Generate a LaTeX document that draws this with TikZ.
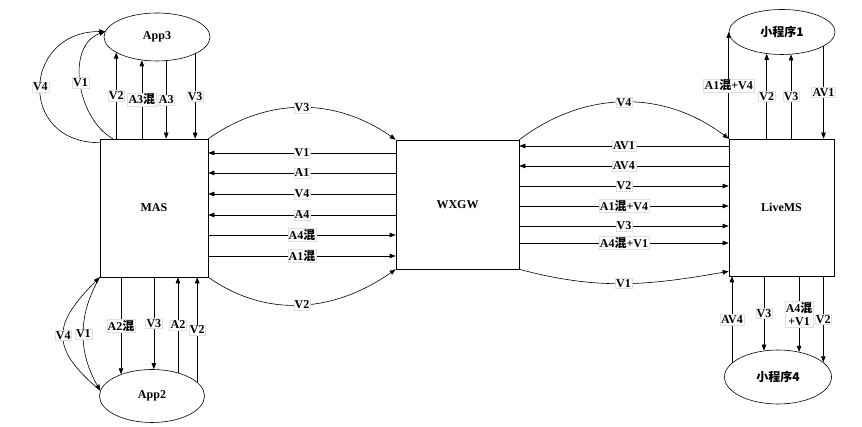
\documentclass[tikz,border=0pt]{standalone}
\usepackage{fontspec}
\setmainfont{Liberation Serif}
\newfontfamily\cjk{Noto Sans CJK SC}
\newcommand\hun{{\cjk 混}}
\usetikzlibrary{shapes.geometric,arrows.meta}

\begin{document}
\begin{tikzpicture}[x=1pt,y=1pt,->,>={Triangle[length=6pt,width=4.5pt]},line width=.6pt,
  font=\fontsize{12}{13}\selectfont\bfseries,
  server/.style={draw,rectangle,inner sep=0pt},
  app/.style={draw,ellipse,inner sep=0pt},
  lab/.style={fill=white,draw=black!12,line width=.3pt,inner sep=1pt,align=center}]
  \useasboundingbox (0,0) rectangle (862,427);

  % servers
  \node[server,minimum width=108pt,minimum height=138pt] (mas) at (154,219) {MAS};
  \node[server,minimum width=123pt,minimum height=129pt] (wxgw) at (457.5,222.5) {WXGW};
  \node[server,minimum width=105pt,minimum height=137pt] (livems) at (781.5,219.5) {LiveMS};

  % clients
  \node[app,minimum width=106pt,minimum height=48pt] (app3) at (157,390) {App3};
  \node[app,minimum width=105pt,minimum height=53pt] (app2) at (152,31) {App2};
  \node[app,minimum width=106pt,minimum height=45pt] (mini1) at (782,395) {\cjk 小程序1};
  \node[app,minimum width=107pt,minimum height=54pt] (mini4) at (778,50) {\cjk 小程序4};

  % MAS <-> WXGW
  \foreach \yy/\lab in {274/V1,254/A1,233/V4,212/A4}
    \draw (wxgw.west |- 0,\yy) -- node[lab] {\lab} (mas.east |- 0,\yy);
  \foreach \yy/\lab in {192/A4\hun,171/A1\hun}
    \draw (mas.east |- 0,\yy) -- node[lab] {\lab} (wxgw.west |- 0,\yy);
  \draw (mas.north east) to[out=35,in=145] node[lab] {V3} (wxgw.north west);
  \draw (mas.south east) to[out=-35,in=-145] node[lab] {V2} (wxgw.south west);

  % WXGW <-> LiveMS
  \foreach \yy/\lab in {281/AV1,261/AV4}
    \draw (livems.west |- 0,\yy) -- node[lab] {\lab} (wxgw.east |- 0,\yy);
  \foreach \yy/\lab in {241/V2,221/A1\hun+V4,201/V3,184/A4\hun+V1}
    \draw (wxgw.east |- 0,\yy) -- node[lab] {\lab} (livems.west |- 0,\yy);
  \draw (wxgw.north east) to[out=37,in=143] node[lab] {V4} (livems.north west);
  \draw (wxgw.south east) to[out=-15,in=-170] node[lab] {V1} ([yshift=5pt]livems.south west);

  % MAS <-> App3
  \draw ([yshift=-4pt]mas.north west) to[out=180,in=180,looseness=1.9] node[lab] {V4} (app3.174);
  \draw ([xshift=13pt]mas.north west) to[out=150,in=200] node[lab] {V1} (app3.174);
  \foreach \ang/\lab in {201/V2,237/A3\hun}
    \draw (app3.\ang |- mas.north) -- node[lab] {\lab} (app3.\ang);
  \foreach \ang/\lab in {291/A3,336/V3}
    \draw (app3.\ang) -- node[lab] {\lab} (app3.\ang |- mas.north);

  % MAS <-> App2
  \draw (app2.174) to[out=140,in=225,looseness=1.5] node[lab] {V4} (mas.south west);
  \draw (mas.south west) to[out=240,in=120] node[lab] {V1} (app2.174);
  \foreach \ang/\lab in {145/A2\hun,86/V3}
    \draw (app2.\ang |- mas.south) -- node[lab] {\lab} (app2.\ang);
  \foreach \ang/\lab in {42/A2,17/V2}
    \draw (app2.\ang) -- node[lab] {\lab} (app2.\ang |- mas.south);

  % LiveMS <-> mini programs
  \draw (mini1.west |- livems.north) -- node[lab] {A1\hun+V4} (mini1.west);
  \foreach \ang/\lab in {235/V2,292/V3}
    \draw (mini1.\ang |- livems.north) -- node[lab] {\lab} (mini1.\ang);
  \draw (mini1.341) -- node[lab] {AV1} (mini1.341 |- livems.north);
  \draw (mini4.163) -- node[lab] {AV4} (mini4.163 |- livems.south);
  \foreach \ang/\lab in {118/V3,50/A4\hun\\+V1,18/V2}
    \draw (mini4.\ang |- livems.south) -- node[lab] {\lab} (mini4.\ang);
\end{tikzpicture}
\end{document}
